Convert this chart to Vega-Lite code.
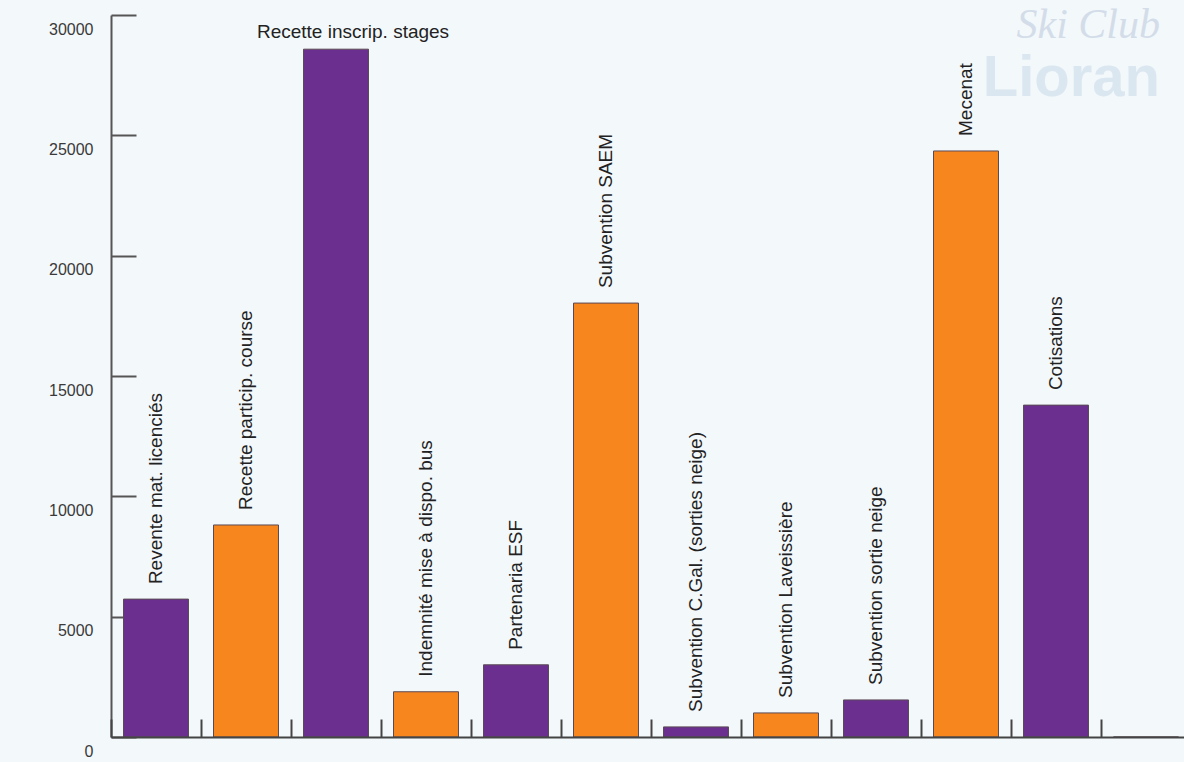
{
  "$schema": "https://vega.github.io/schema/vega-lite/v6.json",
  "width": 1073,
  "height": 722,
  "autosize": "none",
  "padding": {"left": 111, "top": 15, "right": 0, "bottom": 25},
  "background": "#f3f8fb",
  "config": {"view": {"stroke": null}, "font": "Liberation Sans"},
  "title": {
    "text": "Ski Club",
    "subtitle": "Lioran",
    "anchor": "end",
    "frame": "group",
    "orient": "top",
    "font": "Liberation Serif",
    "fontStyle": "italic",
    "fontWeight": "normal",
    "fontSize": 42,
    "color": "#d3dde9",
    "subtitleFont": "Liberation Sans",
    "subtitleFontWeight": "bold",
    "subtitleFontSize": 58,
    "subtitleColor": "#dbe7f0",
    "subtitlePadding": 3,
    "dx": -24,
    "dy": 99,
    "zindex": 0
  },
  "data": {
    "values": [
      {"poste": "Revente mat. licenciés", "montant": 5730, "groupe": "A"},
      {"poste": "Recette particip. course", "montant": 8810, "groupe": "B"},
      {"poste": "Recette inscrip. stages", "montant": 28580, "groupe": "A"},
      {"poste": "Indemnité mise à dispo. bus", "montant": 1880, "groupe": "B"},
      {"poste": "Partenaria ESF", "montant": 3000, "groupe": "A"},
      {"poste": "Subvention SAEM", "montant": 18030, "groupe": "B"},
      {"poste": "Subvention C.Gal.  (sorties neige)", "montant": 420, "groupe": "A"},
      {"poste": "Subvention Laveissière", "montant": 1000, "groupe": "B"},
      {"poste": "Subvention sortie neige", "montant": 1540, "groupe": "A"},
      {"poste": "Mecenat", "montant": 24350, "groupe": "B"},
      {"poste": "Cotisations", "montant": 13790, "groupe": "A"},
      {"poste": "", "montant": 0, "groupe": "A"}
    ]
  },
  "encoding": {
    "x": {
      "field": "poste",
      "type": "nominal",
      "sort": null,
      "scale": {"range": [0, 1080], "paddingInner": 0.278, "paddingOuter": 0.139},
      "axis": {
        "labels": false,
        "title": null,
        "bandPosition": -0.1925,
        "tickSize": -18,
        "tickColor": "#444444",
        "tickWidth": 2,
        "domainColor": "#444444",
        "domainWidth": 2,
        "zindex": 1
      }
    },
    "y": {
      "field": "montant",
      "type": "quantitative",
      "scale": {"domain": [0, 30000], "nice": false},
      "axis": {
        "title": null,
        "values": [0, 5000, 10000, 15000, 20000, 25000, 30000],
        "format": "d",
        "grid": false,
        "tickSize": -25,
        "tickColor": "#555555",
        "tickWidth": 2,
        "domainColor": "#555555",
        "domainWidth": 2,
        "labelPadding": 43,
        "labelOffset": 14,
        "labelBaseline": "middle",
        "labelFlush": false,
        "labelFontSize": 16,
        "labelColor": "#3a3a3a"
      }
    }
  },
  "layer": [
    {
      "mark": {"type": "bar", "stroke": "#5a4a55", "strokeWidth": 1},
      "encoding": {
        "color": {
          "field": "groupe",
          "type": "nominal",
          "scale": {"domain": ["A", "B"], "range": ["#6b2f8f", "#f7861f"]},
          "legend": null
        }
      }
    },
    {
      "transform": [{"filter": "datum.montant > 0 && datum.poste != 'Recette inscrip. stages'"}],
      "mark": {"type": "text", "angle": 270, "align": "left", "baseline": "middle", "dx": 15, "fontSize": 19, "color": "#222222"},
      "encoding": {"text": {"field": "poste"}}
    },
    {
      "transform": [{"filter": "datum.poste == 'Recette inscrip. stages'"}],
      "mark": {"type": "text", "align": "center", "baseline": "alphabetic", "dx": 17, "dy": -11, "fontSize": 19, "color": "#222222"},
      "encoding": {"text": {"field": "poste"}}
    }
  ]
}
